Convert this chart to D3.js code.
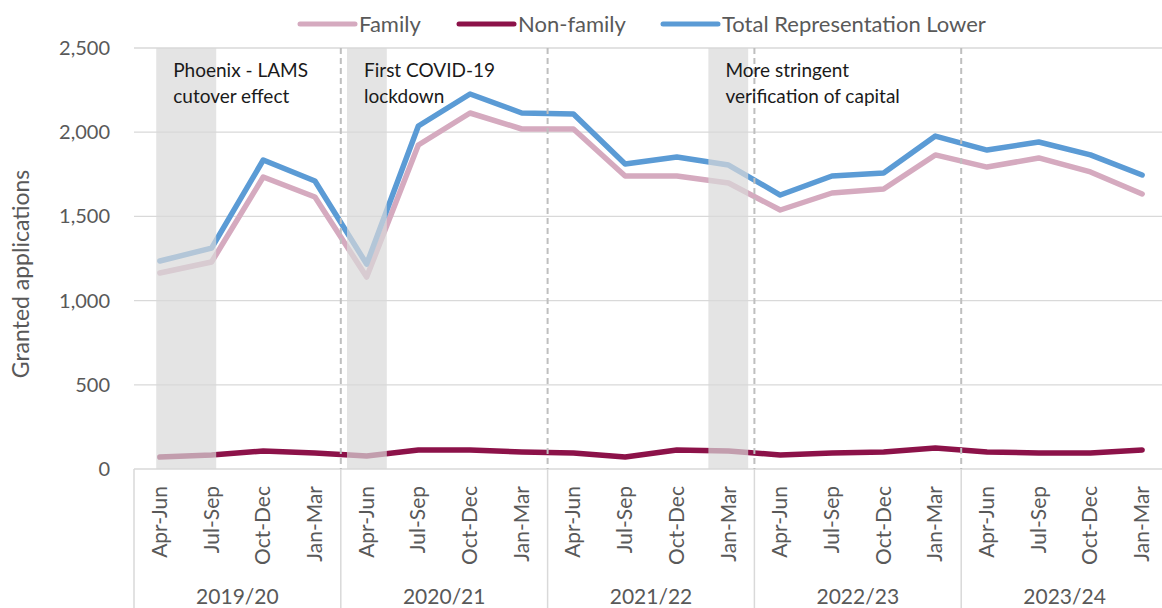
<!DOCTYPE html>
<meta charset="utf-8">
<style>
body { margin: 0; background: #fff; }
text { font-family: Lato, "Open Sans", sans-serif; }
</style>
<body>
<svg width="1162" height="608"></svg>
<script src="https://d3js.org/d3.v7.min.js"></script>
<script>

var quarters = ["Apr-Jun", "Jul-Sep", "Oct-Dec", "Jan-Mar"];
var years = ["2019/20", "2020/21", "2021/22", "2022/23", "2023/24"];

var family    = [1164, 1229, 1734, 1615, 1140, 1924, 2114, 2019, 2019, 1740, 1740, 1698, 1538, 1639, 1663, 1865, 1793, 1847, 1764, 1633];
var nonFamily = [71, 83, 107, 95, 77, 113, 113, 101, 95, 71, 113, 107, 83, 95, 101, 125, 101, 95, 95, 113];
var total     = [1235, 1312, 1835, 1710, 1217, 2037, 2227, 2114, 2108, 1811, 1853, 1805, 1627, 1740, 1758, 1977, 1894, 1942, 1865, 1746];

var yTicks = [0, 500, 1000, 1500, 2000, 2500];

// shaded periods, in quarter-index units (from, to)
var shades = [[0.43, 1.59], [4.12, 4.89], [11.11, 11.88]];
var notes = [
  ["Phoenix - LAMS", "cutover effect"],
  ["First COVID-19", "lockdown"],
  ["More stringent", "verification of capital"]
];

var series = [
  {name: "Family", values: family, color: "#d5aabf"},
  {name: "Non-family", values: nonFamily, color: "#8c1249"},
  {name: "Total Representation Lower", values: total, color: "#5b9bd5"}
];

var svg = d3.select("svg");
var pl = 134, pr = 1168, pt = 48, pb = 469;

var labels = [];
years.forEach(function(y) { quarters.forEach(function(q) { labels.push(q); }); });

var x = d3.scaleBand().domain(d3.range(labels.length)).range([pl, pr]).padding(0);
var xi = d3.scaleLinear().domain([0, labels.length]).range([pl, pr]);
var y = d3.scaleLinear().domain([0, 2500]).range([pb, pt]);
var cx = function(i) { return x(i) + x.bandwidth() / 2; };

// gridlines
svg.append("g").selectAll("line")
  .data(yTicks.filter(function(d) { return d > 0; }))
  .enter().append("line")
    .attr("x1", pl).attr("x2", pr)
    .attr("y1", function(d) { return y(d); }).attr("y2", function(d) { return y(d); })
    .attr("stroke", "#d9d9d9").attr("stroke-width", 1.3);

// y tick labels
svg.append("g").selectAll("text")
  .data(yTicks)
  .enter().append("text")
    .attr("x", 110)
    .attr("y", function(d) { return y(d) + 7; })
    .attr("text-anchor", "end")
    .attr("font-size", 20)
    .attr("fill", "#595959")
    .text(d3.format(","));

svg.append("text")
  .attr("transform", "translate(29,274) rotate(-90)")
  .attr("text-anchor", "middle")
  .attr("font-size", 23)
  .attr("fill", "#595959")
  .text("Granted applications");

// category axis
svg.append("line")
  .attr("x1", pl).attr("x2", pr).attr("y1", pb).attr("y2", pb)
  .attr("stroke", "#d9d9d9").attr("stroke-width", 1.5);

svg.append("g").selectAll("line")
  .data(d3.range(years.length + 1))
  .enter().append("line")
    .attr("x1", function(d) { return xi(d * 4); }).attr("x2", function(d) { return xi(d * 4); })
    .attr("y1", pb).attr("y2", 608)
    .attr("stroke", "#d9d9d9").attr("stroke-width", 1.5);

svg.append("g").selectAll("text")
  .data(labels)
  .enter().append("text")
    .attr("transform", function(d, i) { return "translate(" + (cx(i) + 7) + "," + (pb + 17) + ") rotate(-90)"; })
    .attr("text-anchor", "end")
    .attr("font-size", 21)
    .attr("fill", "#595959")
    .text(function(d) { return d; });

svg.append("g").selectAll("text")
  .data(years)
  .enter().append("text")
    .attr("x", function(d, i) { return xi(i * 4 + 2); })
    .attr("y", 604)
    .attr("text-anchor", "middle")
    .attr("font-size", 21)
    .attr("fill", "#595959")
    .text(function(d) { return d; });

// lines
var line = d3.line()
  .x(function(d, i) { return cx(i); })
  .y(function(d) { return y(d); });

svg.append("g").selectAll("path")
  .data(series)
  .enter().append("path")
    .attr("d", function(s) { return line(s.values); })
    .attr("fill", "none")
    .attr("stroke", function(s) { return s.color; })
    .attr("stroke-width", 5.5)
    .attr("stroke-linejoin", "round")
    .attr("stroke-linecap", "round");

// shaded periods over the lines
svg.append("g").selectAll("rect")
  .data(shades)
  .enter().append("rect")
    .attr("x", function(d) { return xi(d[0]); })
    .attr("width", function(d) { return xi(d[1]) - xi(d[0]); })
    .attr("y", pt).attr("height", pb - pt)
    .attr("fill", "#d9d9d9").attr("fill-opacity", 0.7);

// year dividers
svg.append("g").selectAll("line")
  .data(d3.range(1, years.length))
  .enter().append("line")
    .attr("x1", function(d) { return xi(d * 4); }).attr("x2", function(d) { return xi(d * 4); })
    .attr("y1", pt).attr("y2", pb)
    .attr("stroke", "#bfbfbf").attr("stroke-width", 2)
    .attr("stroke-dasharray", "6,4");

// annotations
var ng = svg.append("g").selectAll("text")
  .data(notes)
  .enter().append("text")
    .attr("font-size", 19)
    .attr("fill", "#1a1a1a");
ng.each(function(d, i) {
  var t = d3.select(this);
  d.forEach(function(s, k) {
    t.append("tspan")
      .attr("x", xi(shades[i][0]) + 17)
      .attr("y", 77 + k * 26)
      .text(s);
  });
});

// legend
var lg = svg.append("g").attr("font-size", 22).attr("fill", "#595959");
var lx = [300, 459, 663];
series.forEach(function(s, i) {
  lg.append("line")
    .attr("x1", lx[i]).attr("x2", lx[i] + 55).attr("y1", 24).attr("y2", 24)
    .attr("stroke", s.color).attr("stroke-width", 5).attr("stroke-linecap", "round");
  lg.append("text")
    .attr("x", lx[i] + 59).attr("y", 32)
    .text(s.name);
});

</script>
</body>
